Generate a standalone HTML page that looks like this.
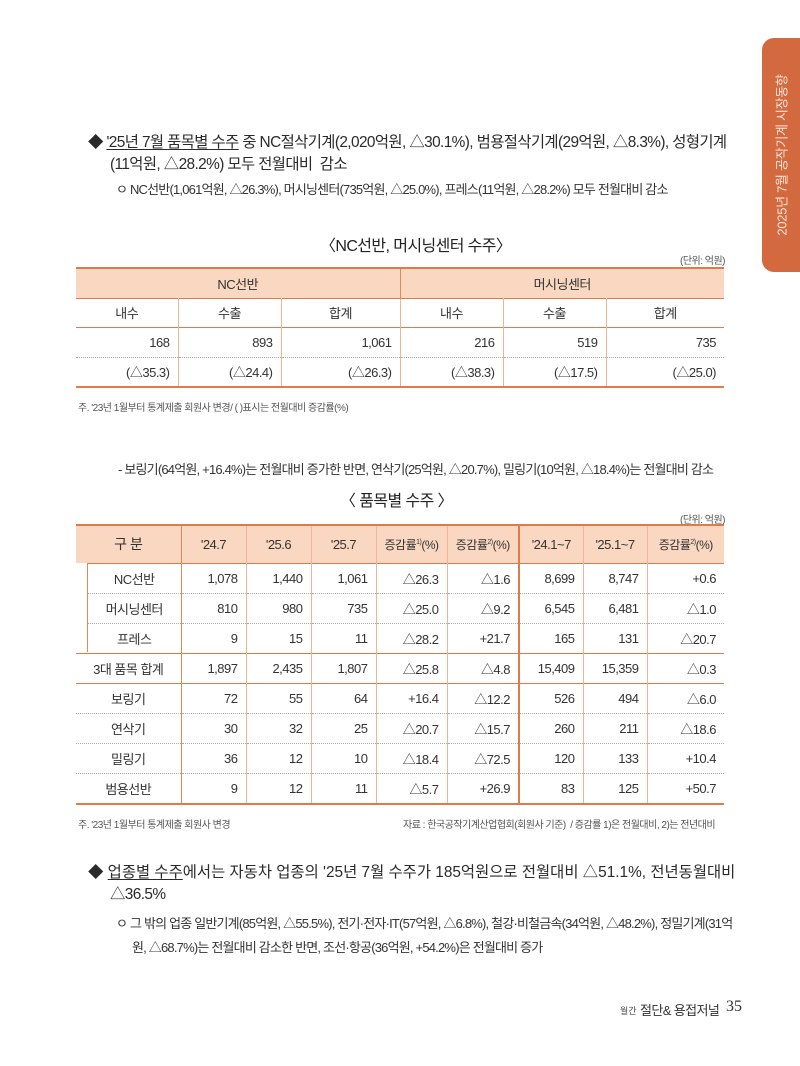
<!DOCTYPE html>
<html><head><meta charset="utf-8"><style>
*{margin:0;padding:0;box-sizing:border-box}
body{width:800px;height:1066px;background:#fff;position:relative;overflow:hidden;font-family:"Liberation Sans","Noto Sans CJK KR",sans-serif;color:#333}
.a{position:absolute;white-space:nowrap}
.m{font-size:15.4px;letter-spacing:-0.6px;color:#2a2a2a}
.s{font-size:13px;letter-spacing:-0.8px;color:#333}
.f{font-size:10px;letter-spacing:-0.5px;color:#555}
u{text-decoration:underline;text-underline-offset:2px}
table{position:absolute;border-collapse:collapse;table-layout:fixed;font-size:13px;letter-spacing:-0.5px;color:#333}
td{padding:0 8px;text-align:right;white-space:nowrap}
td.c{text-align:center;padding:0}
.hd td{background:#f9d7c0;text-align:center;padding:0}
</style></head><body>
<div class="a" style="left:762px;top:38px;width:40px;height:234px;background:#d2693f;border-radius:12px 0 0 12px"></div>
<div class="a" style="left:781px;top:155px;transform:translate(-50%,-50%) rotate(-90deg);color:#fbe3d6;font-size:13px;letter-spacing:-0.3px">2025년 7월 공작기계 시장동향</div>

<div class="a m" style="left:88px;top:130px">◆ <u>'25년 7월 품목별 수주</u> 중 NC절삭기계(2,020억원, △30.1%), 범용절삭기계(29억원, △8.3%), 성형기계</div>
<div class="a m" style="left:110px;top:152px">(11억원, △28.2%) 모두 전월대비&nbsp; 감소</div>
<div class="a s" style="left:116px;top:179px">ㅇ NC선반(1,061억원, △26.3%), 머시닝센터(735억원, △25.0%), 프레스(11억원, △28.2%) 모두 전월대비 감소</div>

<div class="a" style="left:320px;top:232px;font-size:16px;letter-spacing:-0.6px;color:#222">〈NC선반, 머시닝센터 수주〉</div>
<div class="a f" style="left:680px;top:252px">(단위: 억원)</div>

<table style="left:76px;top:267px;width:648px;border-top:2.5px solid #e07a4a;border-bottom:2.5px solid #e07a4a">
<colgroup><col style="width:102px"><col style="width:103px"><col style="width:119px"><col style="width:103px"><col style="width:103px"><col style="width:118px"></colgroup>
<tr class="hd" style="height:30px;border-bottom:1.5px solid #e07a4a"><td colspan="3" style="border-right:1px solid #e08a5a">NC선반</td><td colspan="3">머시닝센터</td></tr>
<tr style="height:29px;border-bottom:1.5px solid #e07a4a"><td class="c" style="border-right:1px solid #f0b595">내수</td><td class="c" style="border-right:1px solid #f0b595">수출</td><td class="c" style="border-right:1px solid #f0b595">합계</td><td class="c" style="border-right:1px solid #f0b595">내수</td><td class="c" style="border-right:1px solid #f0b595">수출</td><td class="c">합계</td></tr>
<tr style="height:30px;border-bottom:1px dotted #aaa"><td style="border-right:1px solid #f0b595">168</td><td style="border-right:1px solid #f0b595">893</td><td style="border-right:1px solid #f0b595">1,061</td><td style="border-right:1px solid #f0b595">216</td><td style="border-right:1px solid #f0b595">519</td><td>735</td></tr>
<tr style="height:30px"><td style="border-right:1px solid #f0b595">(△35.3)</td><td style="border-right:1px solid #f0b595">(△24.4)</td><td style="border-right:1px solid #f0b595">(△26.3)</td><td style="border-right:1px solid #f0b595">(△38.3)</td><td style="border-right:1px solid #f0b595">(△17.5)</td><td>(△25.0)</td></tr>
</table>
<div class="a f" style="left:78px;top:399px">주. '23년 1월부터 통계제출 회원사 변경/ ( )표시는 전월대비 증감률(%)</div>

<div class="a s" style="left:118px;top:459px">- 보링기(64억원, +16.4%)는 전월대비 증가한 반면, 연삭기(25억원, △20.7%), 밀링기(10억원, △18.4%)는 전월대비 감소</div>

<div class="a" style="left:340px;top:487px;font-size:16px;letter-spacing:-0.6px;color:#222">〈 품목별 수주 〉</div>
<div class="a f" style="left:680px;top:511px">(단위: 억원)</div>

<table style="left:76px;top:524px;width:648px;border-top:2.5px solid #e07a4a;border-bottom:2.5px solid #e07a4a">
<colgroup><col style="width:105px"><col style="width:65px"><col style="width:65px"><col style="width:65px"><col style="width:71px"><col style="width:72px"><col style="width:64px"><col style="width:64px"><col style="width:77px"></colgroup>
<tr class="hd" style="height:38px;border-bottom:1.5px solid #e07a4a"><td style="border-right:1.5px solid #e08a5a;font-size:14px">구 분</td><td style="border-right:1px solid #f0b595">'24.7</td><td style="border-right:1px solid #f0b595">'25.6</td><td style="border-right:1px solid #f0b595">'25.7</td><td style="border-right:1px solid #f0b595;font-size:12px">증감률<sup style="font-size:7px">1)</sup>(%)</td><td style="border-right:2.5px solid #e07a4a;font-size:12px">증감률<sup style="font-size:7px">2)</sup>(%)</td><td style="border-right:1px solid #f0b595">'24.1~7</td><td style="border-right:1px solid #f0b595">'25.1~7</td><td style="font-size:12px">증감률<sup style="font-size:7px">2)</sup>(%)</td></tr>
<tr style="height:30px;border-bottom:1px dotted #aaa"><td class="c" style="border-right:1.5px solid #e08a5a;padding-left:12px">NC선반</td><td style="border-right:1px solid #f0b595">1,078</td><td style="border-right:1px solid #f0b595">1,440</td><td style="border-right:1px solid #f0b595">1,061</td><td style="border-right:1px solid #f0b595">△26.3</td><td style="border-right:2.5px solid #e07a4a">△1.6</td><td style="border-right:1px solid #f0b595">8,699</td><td style="border-right:1px solid #f0b595">8,747</td><td>+0.6</td></tr>
<tr style="height:30px;border-bottom:1px dotted #aaa"><td class="c" style="border-right:1.5px solid #e08a5a;padding-left:12px">머시닝센터</td><td style="border-right:1px solid #f0b595">810</td><td style="border-right:1px solid #f0b595">980</td><td style="border-right:1px solid #f0b595">735</td><td style="border-right:1px solid #f0b595">△25.0</td><td style="border-right:2.5px solid #e07a4a">△9.2</td><td style="border-right:1px solid #f0b595">6,545</td><td style="border-right:1px solid #f0b595">6,481</td><td>△1.0</td></tr>
<tr style="height:30px;border-bottom:1.5px solid #e07a4a"><td class="c" style="border-right:1.5px solid #e08a5a;padding-left:12px">프레스</td><td style="border-right:1px solid #f0b595">9</td><td style="border-right:1px solid #f0b595">15</td><td style="border-right:1px solid #f0b595">11</td><td style="border-right:1px solid #f0b595">△28.2</td><td style="border-right:2.5px solid #e07a4a">+21.7</td><td style="border-right:1px solid #f0b595">165</td><td style="border-right:1px solid #f0b595">131</td><td>△20.7</td></tr>
<tr style="height:30px;border-bottom:1.5px solid #e07a4a"><td class="c" style="border-right:1.5px solid #e08a5a">3대 품목 합계</td><td style="border-right:1px solid #f0b595">1,897</td><td style="border-right:1px solid #f0b595">2,435</td><td style="border-right:1px solid #f0b595">1,807</td><td style="border-right:1px solid #f0b595">△25.8</td><td style="border-right:2.5px solid #e07a4a">△4.8</td><td style="border-right:1px solid #f0b595">15,409</td><td style="border-right:1px solid #f0b595">15,359</td><td>△0.3</td></tr>
<tr style="height:30px;border-bottom:1px dotted #aaa"><td class="c" style="border-right:1.5px solid #e08a5a">보링기</td><td style="border-right:1px solid #f0b595">72</td><td style="border-right:1px solid #f0b595">55</td><td style="border-right:1px solid #f0b595">64</td><td style="border-right:1px solid #f0b595">+16.4</td><td style="border-right:2.5px solid #e07a4a">△12.2</td><td style="border-right:1px solid #f0b595">526</td><td style="border-right:1px solid #f0b595">494</td><td>△6.0</td></tr>
<tr style="height:30px;border-bottom:1px dotted #aaa"><td class="c" style="border-right:1.5px solid #e08a5a">연삭기</td><td style="border-right:1px solid #f0b595">30</td><td style="border-right:1px solid #f0b595">32</td><td style="border-right:1px solid #f0b595">25</td><td style="border-right:1px solid #f0b595">△20.7</td><td style="border-right:2.5px solid #e07a4a">△15.7</td><td style="border-right:1px solid #f0b595">260</td><td style="border-right:1px solid #f0b595">211</td><td>△18.6</td></tr>
<tr style="height:30px;border-bottom:1px dotted #aaa"><td class="c" style="border-right:1.5px solid #e08a5a">밀링기</td><td style="border-right:1px solid #f0b595">36</td><td style="border-right:1px solid #f0b595">12</td><td style="border-right:1px solid #f0b595">10</td><td style="border-right:1px solid #f0b595">△18.4</td><td style="border-right:2.5px solid #e07a4a">△72.5</td><td style="border-right:1px solid #f0b595">120</td><td style="border-right:1px solid #f0b595">133</td><td>+10.4</td></tr>
<tr style="height:31px"><td class="c" style="border-right:1.5px solid #e08a5a">범용선반</td><td style="border-right:1px solid #f0b595">9</td><td style="border-right:1px solid #f0b595">12</td><td style="border-right:1px solid #f0b595">11</td><td style="border-right:1px solid #f0b595">△5.7</td><td style="border-right:2.5px solid #e07a4a">+26.9</td><td style="border-right:1px solid #f0b595">83</td><td style="border-right:1px solid #f0b595">125</td><td>+50.7</td></tr>
</table>
<div class="a" style="left:76px;top:563px;width:12px;height:89px;background:#fff;border-right:1px solid #e08a5a"></div>
<div class="a f" style="left:78px;top:816px">주. '23년 1월부터 통계제출 회원사 변경</div>
<div class="a f" style="left:403px;top:816px">자료 : 한국공작기계산업협회(회원사 기준)&nbsp; / 증감률 1)은 전월대비, 2)는 전년대비</div>

<div class="a m" style="left:88px;top:860px;letter-spacing:0">◆ <u>업종별 수주</u>에서는 자동차 업종의 '25년 7월 수주가 185억원으로 전월대비 △51.1%, 전년동월대비</div>
<div class="a m" style="left:110px;top:882px">△36.5%</div>
<div class="a s" style="left:116px;top:913px;font-size:13px">ㅇ 그 밖의 업종 일반기계(85억원, △55.5%), 전기·전자·IT(57억원, △6.8%), 철강·비철금속(34억원, △48.2%), 정밀기계(31억</div>
<div class="a s" style="left:132px;top:937px;font-size:13px">원, △68.7%)는 전월대비 감소한 반면, 조선·항공(36억원, +54.2%)은 전월대비 증가</div>

<div class="a" style="left:620px;top:1004px;font-size:9px;color:#444">월간</div>
<div class="a" style="left:640px;top:1000px;font-size:13px;letter-spacing:-0.6px;color:#333">절단&amp; 용접저널</div>
<div class="a" style="left:726px;top:998px;font-size:16px;font-family:'Liberation Serif',serif;color:#333">35</div>
</body></html>
